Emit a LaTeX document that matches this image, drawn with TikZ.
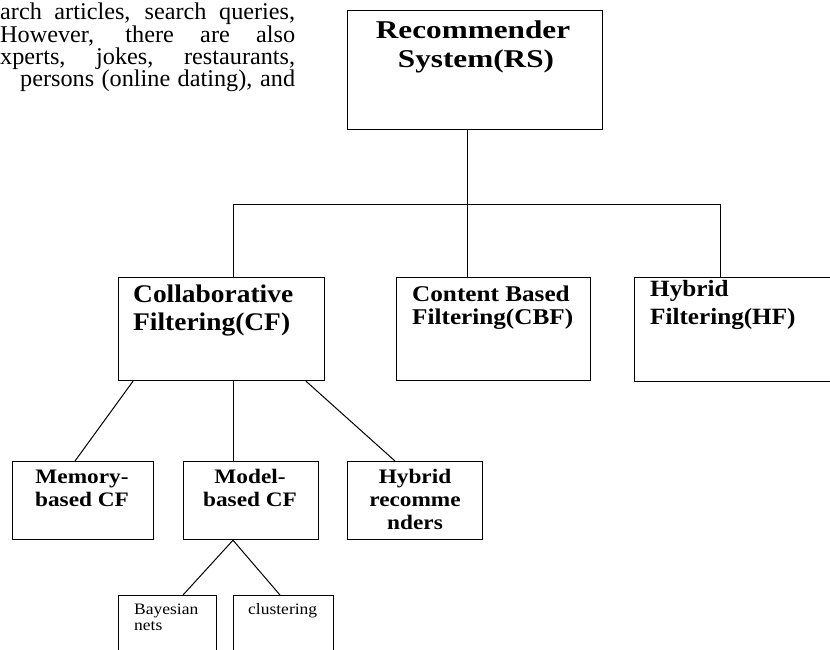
\documentclass[tikz,border=0pt]{standalone}
\usepackage{fontspec}
\setmainfont{Liberation Serif}
\newfontfamily\fPara[FakeStretch=1.01]{Liberation Serif}
\newfontfamily\fRS[FakeStretch=1.22]{Liberation Serif}
\newfontfamily\fCF[FakeStretch=1.08]{Liberation Serif}
\newfontfamily\fCBF[FakeStretch=1.12]{Liberation Serif}
\newfontfamily\fBot[FakeStretch=1.13]{Liberation Serif}
\newfontfamily\fSmall[FakeStretch=1.1]{Liberation Serif}
\usetikzlibrary{calc}
\tikzset{
  box/.style={draw=black, line width=1.2pt, rectangle, inner sep=0pt, anchor=north west},
  conn/.style={line width=1pt, draw=black},
  lblW/.style={inner sep=0pt, anchor=base west},
  lblC/.style={inner sep=0pt, anchor=base},
  para/.style={lblW, font=\fPara\fontsize{24}{22.3}\selectfont},
  rsfont/.style={lblC, font=\fRS\bfseries\fontsize{25.6}{29}\selectfont},
  cffont/.style={lblW, font=\fCF\bfseries\fontsize{25.4}{28}\selectfont},
  cbffont/.style={lblW, font=\fCBF\bfseries\fontsize{22.5}{23}\selectfont},
  hffont/.style={lblW, font=\fCF\bfseries\fontsize{23.3}{28}\selectfont},
  botfont/.style={lblC, font=\fBot\bfseries\fontsize{20.6}{23}\selectfont},
  smallfont/.style={lblW, font=\fSmall\fontsize{15.9}{15.5}\selectfont}
}
\begin{document}
\begin{tikzpicture}[x=1pt,y=-1pt]
\useasboundingbox (0,0) rectangle (830,649);
\clip (0,0) rectangle (830,649);
\fill[white] (0,0) rectangle (830,649);

% paragraph fragment
\node[para] (p1) at (0,19) {\makebox[295pt][s]{arch articles, search queries,}};
\node[para] (p2) at (0,42) {\makebox[295pt][s]{However, there are also}};
\node[para] (p3) at (0,64) {\makebox[295pt][s]{xperts, jokes, restaurants,}};
\node[para] (p4) at (20,86) {\makebox[275pt][s]{persons (online dating), and}};

% boxes
\node[box, minimum width=255pt, minimum height=119pt] (rs) at (347,10) {};
\node[box, minimum width=206pt, minimum height=103pt] (cf) at (118,277) {};
\node[box, minimum width=194pt, minimum height=103pt] (cbf) at (396,277) {};
\node[box, minimum width=220pt, minimum height=104pt] (hf) at (634,277) {};
\node[box, minimum width=141pt, minimum height=78pt] (mem) at (12,461) {};
\node[box, minimum width=135pt, minimum height=78pt] (model) at (183,461) {};
\node[box, minimum width=135pt, minimum height=78pt] (hyb) at (347,461) {};
\node[box, minimum width=98pt, minimum height=80pt] (bay) at (118,595) {};
\node[box, minimum width=100pt, minimum height=80pt] (clu) at (233,595) {};

% texts
\node[rsfont] (rsA) at (473,38) {Recommender};
\node[rsfont] (rsB) at (476,67) {System(RS)};
\node[cffont] (cfA) at (133,302) {Collaborative};
\node[cffont] (cfB) at (133,330) {Filtering(CF)};
\node[cbffont] (cbfA) at (412,301) {Content Based};
\node[cbffont] (cbfB) at (412,324) {Filtering(CBF)};
\node[hffont] (hfA) at (650,296) {Hybrid};
\node[hffont] (hfB) at (650,324) {Filtering(HF)};
\node[botfont] (memA) at (82,483) {Memory-};
\node[botfont] (memB) at (82,506) {based CF};
\node[botfont] (modA) at (250,483) {Model-};
\node[botfont] (modB) at (250,506) {based CF};
\node[botfont] (hybA) at (415,483) {Hybrid};
\node[botfont] (hybB) at (415,506) {recomme};
\node[botfont] (hybC) at (415,529) {nders};
\node[smallfont] (bayA) at (134,614) {Bayesian};
\node[smallfont] (bayB) at (134,630) {nets};
\node[smallfont] (cluA) at (248,614) {clustering};

% connectors
\coordinate (busL) at (233,204);
\coordinate (busR) at (720,204);
\coordinate (rsOut) at ($(rs.south west)+(120,0)$);
\draw[conn] (rsOut) -- (rsOut |- cbf.north);
\draw[conn] (busL) -- (busR);
\draw[conn] (busL) -- (busL |- cf.north);
\draw[conn] (busR) -- (busR |- hf.north);
\draw[conn] ($(cf.south west)+(15,0)$) -- ($(mem.north west)+(63,0)$);
\draw[conn] ($(cf.south west)+(115,0)$) -- ($(model.north west)+(50,0)$);
\draw[conn] ($(cf.south west)+(188,0)$) -- ($(hyb.north west)+(48,0)$);
\draw[conn] ($(model.south west)+(50,0)$) -- ($(bay.north west)+(65,0)$);
\draw[conn] ($(model.south west)+(50,0)$) -- ($(clu.north west)+(47,0)$);
\end{tikzpicture}
\end{document}
